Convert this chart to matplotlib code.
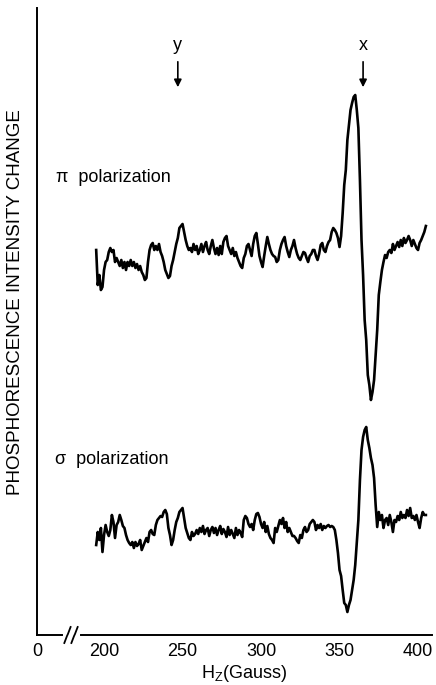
import matplotlib
matplotlib.use("Agg")
import matplotlib.pyplot as plt

plt.rcParams['font.family'] = ['Liberation Sans', 'DejaVu Sans']

# field axis (Gauss), one sample per Gauss
field = list(range(195, 406))

# pi polarization trace, intensity change (arb. units, 0 = baseline)
pi_signal = [
    5, -30, -20, -35, -32, -15, -7, -5, 3, 7,
    3, 5, -7, -3, -7, -11, -5, -13, -7, -15,
    -7, -11, -5, -11, -7, -13, -9, -15, -11, -17,
    -20, -25, -23, -7, 5, 10, 12, 5, 9, 5,
    11, 3, -1, -7, -15, -19, -23, -21, -11, -5,
    3, 11, 17, 27, 29, 31, 23, 15, 9, 5,
    7, 3, 11, 5, 9, 1, 5, 11, 3, 9,
    13, 5, 1, 9, 15, 7, 1, 7, 0, 9,
    1, 13, 17, 19, 9, 5, 1, 7, -1, 3,
    -3, -7, -11, -13, -3, 1, 9, 11, 5, -1,
    11, 19, 22, 11, -1, -7, -12, -1, 9, 18,
    11, 5, 1, -1, -2, -7, -5, 5, 11, 15,
    18, 9, 3, -2, 5, 9, 15, 7, 1, -3,
    -5, -1, 3, 2, -3, -7, -1, 1, 5, 5,
    -1, -5, 1, 10, 12, 5, 3, 9, 13, 15,
    23, 27, 25, 22, 17, 8, 19, 42, 70, 85,
    115, 130, 145, 152, 158, 160, 145, 127, 75, 15,
    -20, -65, -85, -120, -130, -145, -137, -125, -100, -75,
    -40, -27, -15, -7, 0, -3, 3, 5, 2, 11,
    5, 9, 13, 8, 15, 9, 17, 12, 15, 19,
    15, 9, 15, 11, 7, 5, 12, 15, 19, 23,
    29,
]

# sigma polarization trace
sigma_signal = [
    -15, -2, -10, 2, -22, -5, 5, -2, -6, 0,
    15, 8, -8, 5, 8, 15, 10, 4, 2, -5,
    -10, -13, -15, -12, -18, -12, -16, -14, -10, -20,
    -16, -12, -8, -12, -2, 0, -4, -5, 5, 10,
    12, 14, 13, 18, 20, 16, 2, -5, -15, -10,
    0, 8, 12, 18, 20, 22, 12, 2, -3, -8,
    -10, -2, -6, -4, 0, -4, 2, -2, 4, -4,
    0, 2, -6, 0, 3, -3, 2, -5, 0, 4,
    -4, 1, -2, -7, 3, -5, 0, -4, -8, 2,
    -5, 0, -3, -7, 10, 14, 12, 6, 3, 6,
    0, 10, 16, 17, 13, 6, 2, 8, -2, 4,
    -4, -8, -10, -13, 2, -2, 4, 10, 6, 12,
    2, 8, -2, 2, -2, -6, -6, -8, -11, -13,
    -5, -8, 0, 3, -2, 0, 6, 8, 10, 8,
    0, 5, 2, 6, 0, 4, 2, 4, 5, 3,
    4, 3, 0, -10, -23, -40, -46, -60, -73, -75,
    -82, -75, -70, -60, -50, -35, -13, 10, 50, 80,
    93, 100, 103, 90, 82, 72, 65, 52, 25, 3,
    18, 10, 15, 2, 10, 12, 5, 15, 8, -2,
    10, 8, 14, 10, 18, 12, 15, 12, 20, 14,
    22, 12, 14, 10, 15, 8, 2, 12, 18, 15,
    15,
]

pi_offset = 380
sigma_offset = 105

tick_values = [157.3, 200, 250, 300, 350, 400]
tick_labels = ['0', '200', '250', '300', '350', '400']

fig = plt.figure(figsize=(4.36, 6.85), dpi=100)
ax = fig.add_axes([37 / 436, 50 / 685, 395 / 436, 627 / 685])

ax.plot(field, [v + pi_offset for v in pi_signal], color='black', lw=1.9)
ax.plot(field, [v + sigma_offset for v in sigma_signal], color='black', lw=1.9)

ax.set_xlim(157.3, 408.9)
ax.set_ylim(0, 627)
ax.set_xticks(tick_values)
ax.set_xticklabels(tick_labels, fontsize=13)
ax.set_yticks([])
ax.tick_params(axis='x', length=0, pad=6)

for side in ['top', 'right', 'bottom']:
    ax.spines[side].set_visible(False)
ax.spines['left'].set_linewidth(1.4)

# broken x axis
ax.plot([157.3, 173.2], [0, 0], color='black', lw=1.4, clip_on=False)
ax.plot([185.3, 408.9], [0, 0], color='black', lw=1.4, clip_on=False)
for xb in [176.7, 181.2]:
    ax.plot([xb - 2.0, xb - 0.3, xb + 0.3, xb + 2.0], [-8, -1, 1, 8],
            color='black', lw=1.3, clip_on=False)

# resonance markers
for name, pos in [('y', 247), ('x', 365)]:
    ax.annotate('', xy=(pos, 545), xytext=(pos, 576),
                arrowprops=dict(arrowstyle='-|>', color='black', lw=1.2,
                                mutation_scale=11))
    ax.text(pos, 589, name, ha='center', va='center', fontsize=13)

ax.text(169.5, 457, 'π  polarization', ha='left', va='center', fontsize=13)
ax.text(168.5, 175, 'σ  polarization', ha='left', va='center', fontsize=13)

ax.set_xlabel('H$_\\mathregular{Z}$(Gauss)', fontsize=13)
ax.xaxis.set_label_coords((244 - 37) / 395, -0.045)

fig.text(16 / 436, 1 - 302 / 685, 'PHOSPHORESCENCE INTENSITY CHANGE',
         rotation=90, ha='center', va='center', fontsize=13.5)

fig.savefig('out.png', dpi=100)
